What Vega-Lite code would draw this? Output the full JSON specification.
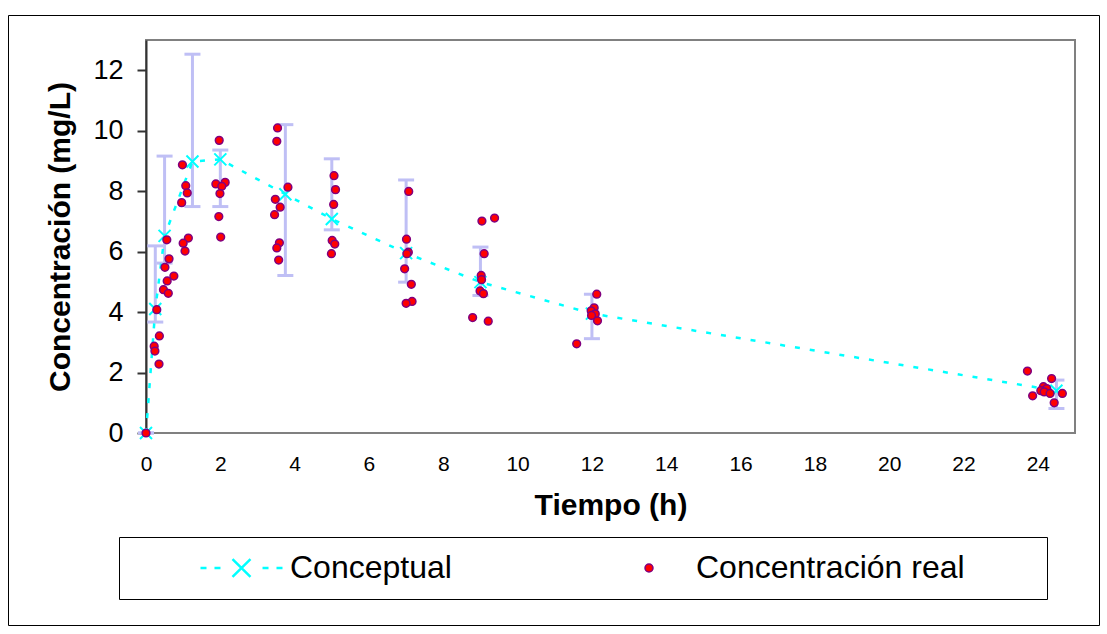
{
  "$schema": "https://vega.github.io/schema/vega-lite/v6.json",
  "width": 929,
  "height": 393,
  "autosize": "none",
  "padding": {"left": 146, "top": 40, "right": 32, "bottom": 201},
  "background": "white",
  "config": {"view": {"stroke": "#808080", "strokeWidth": 2}, "font": "Liberation Sans"},
  "datasets": {
    "conc": [
      {"t": 0, "c": 0, "lo": 0, "hi": 0},
      {"t": 0.25, "c": 4.1, "lo": 3.67, "hi": 6.19},
      {"t": 0.5, "c": 6.52, "lo": 5.62, "hi": 9.16},
      {"t": 1.25, "c": 8.98, "lo": 7.49, "hi": 12.53},
      {"t": 2, "c": 9.05, "lo": 7.49, "hi": 9.36},
      {"t": 3.75, "c": 7.9, "lo": 5.21, "hi": 10.2},
      {"t": 5, "c": 7.08, "lo": 6.72, "hi": 9.07},
      {"t": 7, "c": 5.95, "lo": 4.99, "hi": 8.37},
      {"t": 9, "c": 4.99, "lo": 4.55, "hi": 6.15},
      {"t": 12, "c": 3.95, "lo": 3.12, "hi": 4.59},
      {"t": 24.5, "c": 1.4, "lo": 0.81, "hi": 1.75}
    ],
    "real": [
      {"t": 0, "c": 0},
      {"t": 0.29, "c": 4.08}, {"t": 0.36, "c": 3.21}, {"t": 0.22, "c": 2.87}, {"t": 0.24, "c": 2.71}, {"t": 0.35, "c": 2.28},
      {"t": 0.56, "c": 6.39}, {"t": 0.62, "c": 5.76}, {"t": 0.51, "c": 5.48}, {"t": 0.57, "c": 5.03}, {"t": 0.75, "c": 5.19}, {"t": 0.47, "c": 4.74}, {"t": 0.6, "c": 4.62},
      {"t": 0.98, "c": 8.87}, {"t": 1.07, "c": 8.18}, {"t": 1.11, "c": 7.94}, {"t": 0.96, "c": 7.62}, {"t": 1.14, "c": 6.45}, {"t": 1.0, "c": 6.28}, {"t": 1.05, "c": 6.02},
      {"t": 1.97, "c": 9.68}, {"t": 1.88, "c": 8.24}, {"t": 2.13, "c": 8.29}, {"t": 2.04, "c": 8.16}, {"t": 1.99, "c": 7.92}, {"t": 1.96, "c": 7.16}, {"t": 2.01, "c": 6.48},
      {"t": 3.54, "c": 10.09}, {"t": 3.52, "c": 9.65}, {"t": 3.82, "c": 8.13}, {"t": 3.48, "c": 7.73}, {"t": 3.61, "c": 7.47}, {"t": 3.46, "c": 7.22}, {"t": 3.59, "c": 6.29}, {"t": 3.52, "c": 6.12}, {"t": 3.57, "c": 5.72},
      {"t": 5.06, "c": 8.51}, {"t": 5.1, "c": 8.05}, {"t": 5.05, "c": 7.56}, {"t": 5.01, "c": 6.37}, {"t": 5.08, "c": 6.25}, {"t": 4.99, "c": 5.93},
      {"t": 7.07, "c": 7.99}, {"t": 7.01, "c": 6.41}, {"t": 7.06, "c": 5.98}, {"t": 7.02, "c": 5.93}, {"t": 6.96, "c": 5.43}, {"t": 7.14, "c": 4.92}, {"t": 7.16, "c": 4.35}, {"t": 7.0, "c": 4.29},
      {"t": 9.04, "c": 7.01}, {"t": 9.38, "c": 7.11}, {"t": 9.1, "c": 5.93}, {"t": 9.02, "c": 5.21}, {"t": 9.03, "c": 5.07}, {"t": 8.99, "c": 4.7}, {"t": 9.08, "c": 4.61}, {"t": 8.79, "c": 3.82}, {"t": 9.21, "c": 3.7},
      {"t": 12.13, "c": 4.59}, {"t": 12.06, "c": 4.14}, {"t": 11.98, "c": 4.04}, {"t": 12.09, "c": 3.94}, {"t": 11.99, "c": 3.89}, {"t": 12.15, "c": 3.71}, {"t": 11.59, "c": 2.95},
      {"t": 23.72, "c": 2.05}, {"t": 24.37, "c": 1.8}, {"t": 24.15, "c": 1.53}, {"t": 24.24, "c": 1.47}, {"t": 24.08, "c": 1.4}, {"t": 24.17, "c": 1.36}, {"t": 24.33, "c": 1.31}, {"t": 24.66, "c": 1.31}, {"t": 23.86, "c": 1.23}, {"t": 24.44, "c": 1.0}
    ]
  },
  "layer": [
    {
      "data": {"name": "conc"},
      "mark": {"type": "rule", "color": "#bfbff5", "strokeWidth": 3},
      "encoding": {
        "x": {
          "field": "t", "type": "quantitative",
          "scale": {"domain": [0, 25], "nice": false, "zero": false},
          "axis": {
            "title": "Tiempo (h)", "values": [0, 2, 4, 6, 8, 10, 12, 14, 16, 18, 20, 22, 24],
            "grid": false, "ticks": false, "tickSize": 0, "domain": false,
            "labelFont": "Liberation Sans", "labelFontSize": 21, "labelColor": "#000000", "labelPadding": 20, "labelFlush": false,
            "titleFont": "Liberation Sans", "titleFontSize": 30, "titleFontWeight": "bold", "titleColor": "#000000", "titlePadding": 16
          }
        },
        "y": {
          "field": "lo", "type": "quantitative",
          "scale": {"domain": [0, 13], "nice": false},
          "axis": {
            "title": "Concentración (mg/L)", "values": [0, 2, 4, 6, 8, 10, 12],
            "grid": false, "ticks": true, "tickSize": 9, "tickColor": "#333333", "tickWidth": 2,
            "domainColor": "#333333", "domainWidth": 2,
            "labelFont": "Liberation Sans", "labelFontSize": 27, "labelColor": "#000000", "labelPadding": 14, "labelFlush": false,
            "titleFont": "Liberation Sans", "titleFontSize": 30, "titleFontWeight": "bold", "titleColor": "#000000", "titlePadding": 17
          }
        },
        "y2": {"field": "hi"},
        "opacity": {
          "datum": "marco", "type": "nominal",
          "scale": {"domain": ["marco"], "range": [1]},
          "legend": {
            "title": null, "orient": "none", "legendX": -138, "legendY": -25,
            "symbolType": "M0,0", "symbolSize": 1190281, "symbolStrokeWidth": 0,
            "symbolFillColor": "transparent", "symbolStrokeColor": "transparent",
            "clipHeight": 610, "padding": 0, "strokeColor": "#000000", "labelOffset": 0,
            "labelExpr": "''", "labelFontSize": 1
          }
        }
      }
    },
    {
      "data": {"name": "conc"},
      "mark": {"type": "point", "shape": "M-1,0L1,0", "size": 256, "filled": false, "stroke": "#bfbff5", "strokeWidth": 3, "opacity": 1},
      "encoding": {
        "x": {"field": "t", "type": "quantitative", "title": "Tiempo (h)"},
        "y": {"field": "lo", "type": "quantitative", "title": "Concentración (mg/L)"}
      }
    },
    {
      "data": {"name": "conc"},
      "mark": {"type": "point", "shape": "M-1,0L1,0", "size": 256, "filled": false, "stroke": "#bfbff5", "strokeWidth": 3, "opacity": 1},
      "encoding": {
        "x": {"field": "t", "type": "quantitative", "title": "Tiempo (h)"},
        "y": {"field": "hi", "type": "quantitative", "title": "Concentración (mg/L)"}
      }
    },
    {
      "data": {"name": "conc"},
      "mark": {"type": "line", "color": "#00ffff", "strokeWidth": 2.5, "strokeDash": [5, 10]},
      "encoding": {
        "x": {"field": "t", "type": "quantitative", "title": "Tiempo (h)"},
        "y": {"field": "c", "type": "quantitative", "title": "Concentración (mg/L)"}
      }
    },
    {
      "data": {"name": "conc"},
      "mark": {"type": "point", "shape": "M-1,-1L1,1M-1,1L1,-1", "size": 144, "filled": false, "strokeWidth": 2, "opacity": 1},
      "encoding": {
        "x": {"field": "t", "type": "quantitative", "title": "Tiempo (h)"},
        "y": {"field": "c", "type": "quantitative", "title": "Concentración (mg/L)"},
        "stroke": {
          "datum": "Conceptual", "type": "nominal",
          "scale": {"domain": ["Conceptual"], "range": ["#00ffff"]},
          "legend": {
            "title": "\u00a0", "titleOrient": "right", "titlePadding": 585, "titleFontSize": 10,
            "orient": "none", "legendX": -27, "legendY": 497,
            "symbolType": "M-0.079,0L0,0M0.105,0L0.184,0M0.342,-0.118L0.579,0.118M0.342,0.118L0.579,-0.118M0.737,0L0.816,0M0.921,0L1,0",
            "symbolSize": 23104, "symbolStrokeWidth": 2.5, "symbolFillColor": "transparent", "symbolStrokeColor": "#00ffff", "symbolOpacity": 1,
            "clipHeight": 42, "padding": 10, "strokeColor": "#000000", "labelOffset": 6,
            "labelFont": "Liberation Sans", "labelFontSize": 32, "labelColor": "#000000", "labelLimit": 800
          }
        }
      }
    },
    {
      "data": {"name": "real"},
      "mark": {"type": "point", "shape": "circle", "size": 60, "filled": true, "stroke": "#800080", "strokeWidth": 1.5, "opacity": 1},
      "encoding": {
        "x": {"field": "t", "type": "quantitative", "title": "Tiempo (h)"},
        "y": {"field": "c", "type": "quantitative", "title": "Concentración (mg/L)"},
        "fill": {
          "datum": "Concentración real", "type": "nominal",
          "scale": {"domain": ["Concentración real"], "range": ["#ff0000"]},
          "legend": {
            "title": null, "orient": "none", "legendX": 477, "legendY": 497,
            "symbolType": "circle", "symbolSize": 64, "symbolStrokeWidth": 1.5, "symbolStrokeColor": "#800080", "symbolFillColor": "#ff0000", "symbolOpacity": 1,
            "clipHeight": 42, "padding": 10, "labelOffset": 31,
            "labelFont": "Liberation Sans", "labelFontSize": 32, "labelColor": "#000000", "labelLimit": 800
          }
        }
      }
    }
  ]
}
